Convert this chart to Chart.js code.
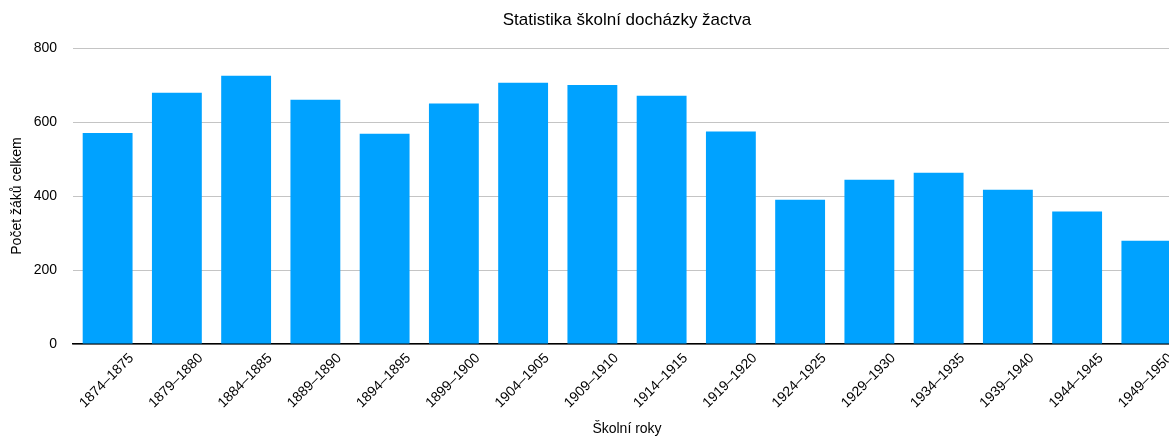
<!DOCTYPE html>
<html lang="cs">
<head>
<meta charset="utf-8">
<title>Statistika školní docházky žactva</title>
<script src="https://cdn.jsdelivr.net/npm/chart.js@4"></script>
<style>
  html, body { margin: 0; padding: 0; background: #fff; overflow: hidden; }
  #wrap { width: 1169px; height: 439px; overflow: hidden; position: relative; }
  #box { width: 1181px; height: 439px; position: absolute; left: 0; top: 0; }
</style>
</head>
<body>
<div id="wrap"><div id="box"><canvas id="chart"></canvas></div></div>
<script>
// school years and pupil totals
const years = [
    '1874–1875', '1879–1880', '1884–1885', '1889–1890', '1894–1895', '1899–1900',
    '1904–1905', '1909–1910', '1914–1915', '1919–1920', '1924–1925', '1929–1930',
    '1934–1935', '1939–1940', '1944–1945', '1949–1950',
];
const pupils = [570, 679, 725, 660, 568, 650, 706, 700, 671, 574, 390, 444, 463, 417, 358, 279];
const yTicks = [0, 200, 400, 600, 800];

const FONT = "'Liberation Sans', Arial, Helvetica, sans-serif";
Chart.defaults.font.family = FONT;
Chart.defaults.color = '#000';

const ctx = document.getElementById('chart').getContext('2d');
new Chart(ctx, {
    type: 'bar',
    data: {
        labels: years,
        datasets: [{
            label: 'Počet žáků celkem',
            data: pupils,
            backgroundColor: '#00a2ff',
            borderWidth: 0,
            categoryPercentage: 0.72,
            barPercentage: 1,
        }],
    },
    options: {
        responsive: true, maintainAspectRatio: false,
        animation: false,
        layout: { padding: 0 },
        plugins: {
            legend: { display: false },
            tooltip: { enabled: false },
        },
        scales: {
            // top axis only carries the chart title, centred over the plot area
            top: {
                type: 'category',
                position: 'top',
                grid: { display: false, drawTicks: false },
                border: { display: false },
                ticks: { display: false },
                title: {
                    display: true,
                    text: 'Statistika školní docházky žactva',
                    color: '#000',
                    font: { size: 17 },
                    padding: { top: 10, bottom: 0 },
                },
                afterFit: s => { s.height = 48; },
            },
            x: {
                grid: { display: false, drawTicks: false },
                border: { display: true, color: '#000', width: 1.5 },
                ticks: {
                    minRotation: 45, maxRotation: 45,
                    autoSkip: false,
                    padding: 6,
                    labelOffset: 24,
                    font: { size: 14 },
                    color: '#000',
                },
                title: {
                    display: true,
                    text: 'Školní roky',
                    color: '#000',
                    font: { size: 14 },
                    padding: { top: 0, bottom: 1 },
                },
                afterFit: s => { s.height = 95; },
            },
            y: {
                min: 0, max: 800,
                afterBuildTicks: s => { s.ticks = yTicks.map(v => ({ value: v })); },
                grid: { color: '#c4c4c4', drawTicks: false, lineWidth: 1 },
                border: { display: false },
                ticks: { padding: 16, font: { size: 14 }, color: '#000' },
                title: {
                    display: true,
                    text: 'Počet žáků celkem',
                    color: '#000',
                    font: { size: 14 },
                    padding: { top: 9, bottom: 0 },
                },
                afterFit: s => { s.width = 73; },
            },
        },
    },
});
</script>
</body>
</html>
